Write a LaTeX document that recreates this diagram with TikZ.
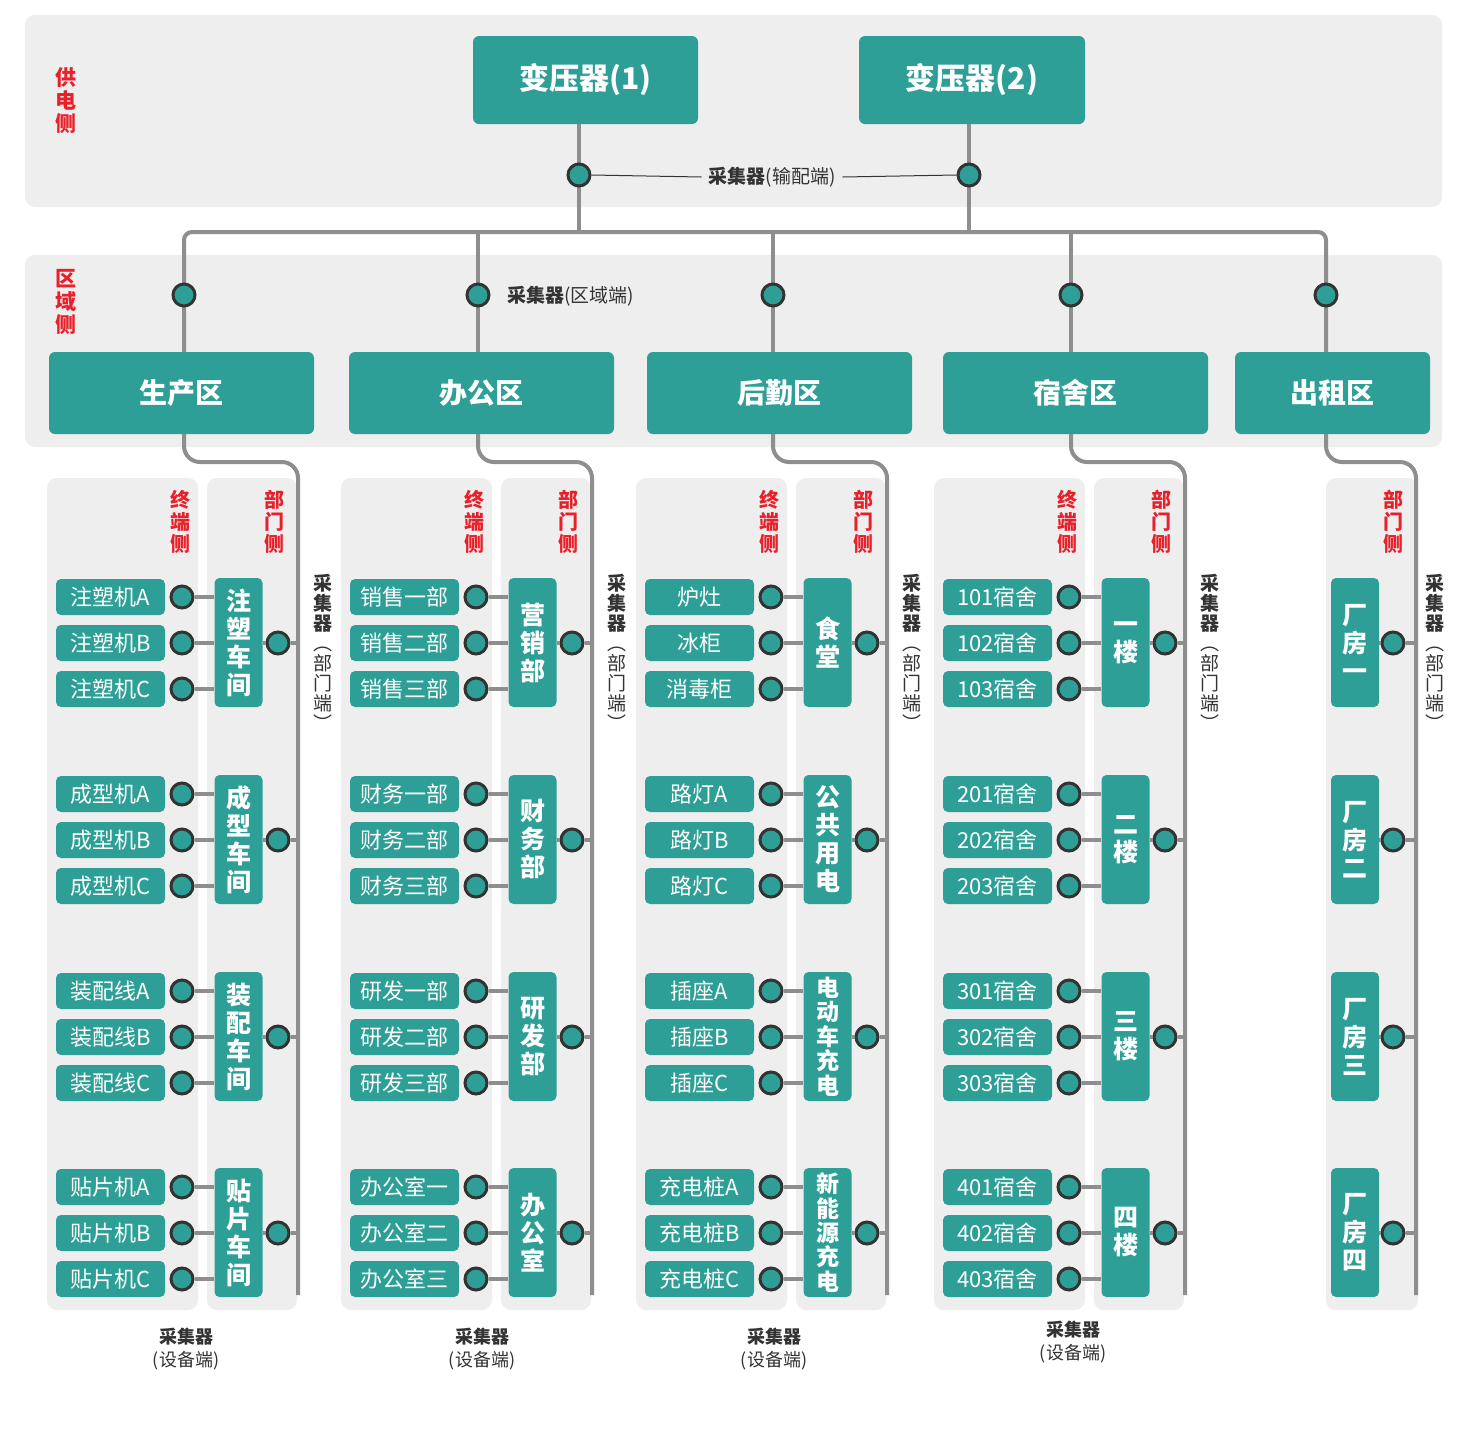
\documentclass[tikz,border=0pt]{standalone}
\usepackage{fontspec}
\setmainfont{Noto Sans CJK SC}
\definecolor{teal1}{HTML}{2E9F96}
\definecolor{bg}{HTML}{EEEEEE}
\definecolor{wire}{HTML}{8E8E8E}
\definecolor{red1}{HTML}{E8202A}
\definecolor{dark}{HTML}{333333}
\tikzset{
 wirel/.style={draw=wire,line width=2pt},
 thinl/.style={draw=dark,line width=0.5pt},
 dot/.style={circle,fill=teal1,draw=dark,line width=1.5pt,minimum size=11pt,inner sep=0pt},
 item/.style={fill=teal1,rounded corners=2.5pt,minimum width=54.5pt,minimum height=18pt,inner sep=0pt,text=white,font=\fontsize{11}{11}\selectfont},
 dept/.style={fill=teal1,rounded corners=2.5pt,minimum width=24pt,minimum height=64.5pt,inner sep=0pt,text=white,align=center,font=\bfseries\fontsize{12.5}{14}\selectfont},
 dept5/.style={dept,font=\bfseries\fontsize{11.5}{12.2}\selectfont},
 zone/.style={fill=teal1,rounded corners=3pt,minimum height=41pt,inner sep=0pt,text=white,font=\bfseries\fontsize{14}{14}\selectfont},
 bgbox/.style={fill=bg,rounded corners=5pt},
 redl/.style={text=red1,align=center,font=\bfseries\fontsize{10}{11}\selectfont,inner sep=0pt},
 vlab/.style={text=dark,align=center,font=\fontsize{9.5}{10}\selectfont,inner sep=0pt},
 blab/.style={text=dark,align=center,font=\fontsize{9}{11.5}\selectfont,inner sep=0pt},
}
\newcommand\grp[7]{% X, base, i1,i2,i3, dept, deptstyle
 \foreach \k/\t in {0/#3,1/#4,2/#5}{
  \node[item] (it#1-#2-\k) at (#1-73.5,#2+46*\k) {\t};
  \node[dot] (d#1-#2-\k) at (#1-2,#2+46*\k) {};
 }
 \node[#7] (dp#1-#2) at (#1+54.5,#2+45.5) {#6};
 \node[dot] (dd#1-#2) at (#1+94,#2+46) {};
 \foreach \k in {0,1,2}{\draw[wirel] (d#1-#2-\k.east) -- (d#1-#2-\k.east -| dp#1-#2.west);}
 \draw[wirel] (dp#1-#2.east |- dd#1-#2) -- (dd#1-#2.west);
 \draw[wirel] (dd#1-#2.east) -- (#1+114,#2+46);
}
\newcommand\colbg[1]{%
 \fill[bgbox] (#1-137,478) rectangle (#1+14,1310);
 \fill[bgbox] (#1+23,478) rectangle (#1+113,1310);
 \draw[wirel,rounded corners=8pt] (#1,434) -- (#1,462) -- (#1+114,462) -- (#1+114,1295);
 \node[redl] (rt#1) at (#1-4,522) {终\\端\\侧};
 \node[redl] (rd#1) at (#1+90,522) {部\\门\\侧};
 \node[vlab] (vl#1) at (#1+139,652) {\textbf{采}\\\textbf{集}\\\textbf{器}\\︵\\部\\门\\端\\︶};
}
\begin{document}
\begin{tikzpicture}[x=0.5pt,y=-0.5pt]
\useasboundingbox (0,0) rectangle (1467,1431);
\fill[white] (0,0) rectangle (1467,1431);
\fill[bgbox] (25,15) rectangle (1442,207);
\fill[bgbox] (25,255) rectangle (1442,447);
\node[redl,font=\bfseries\fontsize{10.5}{11.5}\selectfont] (l1) at (66,101) {供\\电\\侧};
\node[redl,font=\bfseries\fontsize{10.5}{11.5}\selectfont] (l2) at (66,302) {区\\域\\侧};
% transformers
\node[zone,minimum width=112.5pt,minimum height=44pt,font=\bfseries\fontsize{15}{15}\selectfont] (t1) at (585.5,80) {变压器(1)};
\node[zone,minimum width=113pt,minimum height=44pt,font=\bfseries\fontsize{15}{15}\selectfont] (t2) at (972,80) {变压器(2)};
\draw[wirel] (579,124) -- (579,232);
\draw[wirel] (969,124) -- (969,232);
\node[dot] (c1) at (579,175) {};
\node[dot] (c2) at (969,175) {};
\node[text=dark,font=\fontsize{9.5}{10}\selectfont] (clab) at (772,177) {\textbf{采集器}(输配端)};
\draw[thinl] (c1.east) -- (clab.west);
\draw[thinl] (clab.east) -- (c2.west);
% bus
\draw[wirel,rounded corners=4pt] (184,352) -- (184,232) -- (1326,232) -- (1326,352);
\foreach \X in {478,773,1071}{\draw[wirel] (\X,232) -- (\X,352);}
% zones
\node[zone,minimum width=132.5pt] (z1) at (181.5,393) {生产区};
\node[zone,minimum width=132.5pt] (z2) at (481.5,393) {办公区};
\node[zone,minimum width=132.5pt] (z3) at (779.5,393) {后勤区};
\node[zone,minimum width=132.5pt] (z4) at (1075.5,393) {宿舍区};
\node[zone,minimum width=97.5pt] (z5) at (1332.5,393) {出租区};
\foreach \X in {184,478,773,1071,1326}{\node[dot] (zc\X) at (\X,295) {};}
\node[text=dark,font=\fontsize{9.5}{10}\selectfont,anchor=west] (rlab) at (500,296) {\textbf{采集器}(区域端)};
% columns
\colbg{184}\colbg{478}\colbg{773}\colbg{1071}
\grp{184}{597}{注塑机A}{注塑机B}{注塑机C}{注\\塑\\车\\间}{dept}
\grp{184}{794}{成型机A}{成型机B}{成型机C}{成\\型\\车\\间}{dept}
\grp{184}{991}{装配线A}{装配线B}{装配线C}{装\\配\\车\\间}{dept}
\grp{184}{1187}{贴片机A}{贴片机B}{贴片机C}{贴\\片\\车\\间}{dept}
\grp{478}{597}{销售一部}{销售二部}{销售三部}{营\\销\\部}{dept}
\grp{478}{794}{财务一部}{财务二部}{财务三部}{财\\务\\部}{dept}
\grp{478}{991}{研发一部}{研发二部}{研发三部}{研\\发\\部}{dept}
\grp{478}{1187}{办公室一}{办公室二}{办公室三}{办\\公\\室}{dept}
\grp{773}{597}{炉灶}{冰柜}{消毒柜}{食\\堂}{dept}
\grp{773}{794}{路灯A}{路灯B}{路灯C}{公\\共\\用\\电}{dept}
\grp{773}{991}{插座A}{插座B}{插座C}{电\\动\\车\\充\\电}{dept5}
\grp{773}{1187}{充电桩A}{充电桩B}{充电桩C}{新\\能\\源\\充\\电}{dept5}
\grp{1071}{597}{101宿舍}{102宿舍}{103宿舍}{一\\楼}{dept}
\grp{1071}{794}{201宿舍}{202宿舍}{203宿舍}{二\\楼}{dept}
\grp{1071}{991}{301宿舍}{302宿舍}{303宿舍}{三\\楼}{dept}
\grp{1071}{1187}{401宿舍}{402宿舍}{403宿舍}{四\\楼}{dept}
% column 5
\fill[bgbox] (1326,478) rectangle (1418,1310);
\draw[wirel,rounded corners=8pt] (1326,434) -- (1326,462) -- (1416,462) -- (1416,1295);
\node[redl] (rd5) at (1393,522) {部\\门\\侧};
\node[vlab] (vl5) at (1435,652) {\textbf{采}\\\textbf{集}\\\textbf{器}\\︵\\部\\门\\端\\︶};
\foreach \b/\t in {597/一,794/二,991/三,1187/四}{
 \node[dept] (f\b) at (1355,\b+45.5) {厂\\房\\\t};
 \node[dot] (fd\b) at (1393,\b+46) {};
 \draw[wirel] (f\b.east |- fd\b) -- (fd\b.west);
 \draw[wirel] (fd\b.east) -- (1416,\b+46);
}
% bottom labels
\foreach \X/\Y in {186/1349,482/1349,774/1349,1073/1342}{
 \node[blab] (bl\X) at (\X,\Y) {\textbf{采集器}\\(设备端)};
}
\end{tikzpicture}
\end{document}
